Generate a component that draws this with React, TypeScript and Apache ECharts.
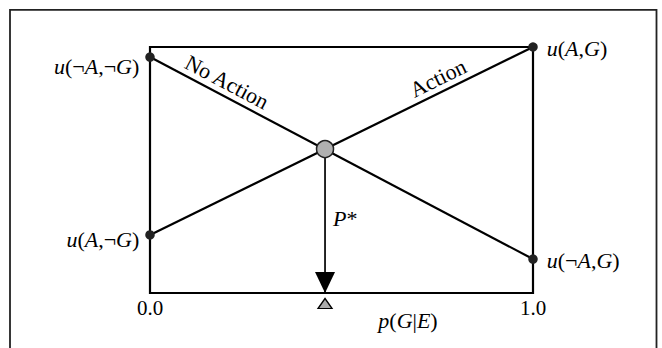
import React, { useEffect, useRef } from "react";
import * as echarts from "echarts";

// Read values (x: p(G|E) from 0 to 1, y: utility scaled 0..1)
const xTicks = [0, 1];
const noActionLine = [
  [0, 0.959],
  [1, 0.138],
];
const actionLine = [
  [0, 0.236],
  [1, 1.0],
];
const endpointLabels = ["u(¬A,¬G)", "u(¬A,G)", "u(A,¬G)", "u(A,G)"];
const pStar = 0.457;
const uStar = 0.585;

const FONT = "Liberation Serif, Times New Roman, serif";
const INK = "#000";

const richItalic = {
  i: { fontStyle: "italic", fontFamily: FONT, fontSize: 22, color: INK },
  n: { fontFamily: FONT, fontSize: 22, color: INK },
};

function toRich(s: string): string {
  // italicise the letters u, A, G, p, E, P
  return s.replace(/[uAGpEP]/g, (m) => `{i|${m}}`);
}

export default function App() {
  const ref = useRef<HTMLDivElement>(null);
  useEffect(() => {
    if (!ref.current) return;
    const chart = echarts.init(ref.current, undefined, { renderer: "svg" });
    const endpoints = [
      { value: noActionLine[0], name: endpointLabels[0], side: "left", off: [0, 9] },
      { value: noActionLine[1], name: endpointLabels[1], side: "right", off: [0, 1] },
      { value: actionLine[0], name: endpointLabels[2], side: "left", off: [0, 5] },
      { value: actionLine[1], name: endpointLabels[3], side: "right", off: [0, 1] },
    ];
    chart.setOption({
      animation: false,
      backgroundColor: "#fff",
      grid: {
        left: 150,
        right: 129,
        top: 47,
        bottom: 55,
        show: true,
        borderColor: "#000",
        borderWidth: 2.2,
        backgroundColor: "transparent",
      },
      xAxis: {
        type: "value",
        min: xTicks[0],
        max: xTicks[1],
        interval: 1,
        axisLine: { show: false },
        axisTick: { show: false },
        splitLine: { show: false },
        axisLabel: {
          margin: 4,
          formatter: (v: number) => v.toFixed(1),
          fontFamily: FONT,
          fontSize: 21,
          color: INK,
        },
      },
      yAxis: {
        type: "value",
        min: 0,
        max: 1,
        show: false,
        splitLine: { show: false },
      },
      graphic: [
        {
          type: "rect",
          shape: { x: 10, y: 9.8, width: 646.5, height: 400 },
          style: { fill: "none", stroke: "#222", lineWidth: 1.8 },
          silent: true,
        },
        {
          type: "text",
          x: 227,
          y: 82,
          rotation: -0.485,
          style: {
            text: "No Action",
            fontFamily: FONT,
            fontSize: 22,
            fill: INK,
            align: "center",
            verticalAlign: "middle",
          },
        },
        {
          type: "text",
          x: 438,
          y: 78,
          rotation: 0.456,
          style: {
            text: "Action",
            fontFamily: FONT,
            fontSize: 22,
            fill: INK,
            align: "center",
            verticalAlign: "middle",
          },
        },
        {
          type: "text",
          x: 333,
          y: 218,
          style: {
            text: toRich("P*"),
            rich: richItalic,
            fontFamily: FONT,
            fontSize: 22,
            fill: INK,
            align: "left",
            verticalAlign: "middle",
          },
        },
        {
          type: "text",
          x: 408,
          y: 320,
          style: {
            text: toRich("p(G|E)"),
            rich: richItalic,
            fontFamily: FONT,
            fontSize: 22,
            fill: INK,
            align: "center",
            verticalAlign: "middle",
          },
        },
      ],
      series: [
        {
          type: "line",
          data: noActionLine,
          symbol: "none",
          clip: false,
          lineStyle: { color: "#000", width: 2.2, opacity: 1 },
          z: 2,
        },
        {
          type: "line",
          data: actionLine,
          symbol: "none",
          clip: false,
          lineStyle: { color: "#000", width: 2.2, opacity: 1 },
          z: 2,
        },
        {
          type: "line",
          data: [
            [pStar, uStar],
            [pStar, 0],
          ],
          symbol: "none",
          clip: false,
          lineStyle: { color: "#000", width: 1.7, opacity: 1 },
          z: 2,
        },
        {
          type: "scatter",
          clip: false,
          data: [[pStar, 0]],
          symbol: "triangle",
          symbolRotate: 180,
          symbolSize: [20, 21],
          symbolOffset: [0, -10.5],
          itemStyle: { color: "#000", opacity: 1 },
          z: 4,
        },
        {
          type: "scatter",
          clip: false,
          data: [[pStar, 0]],
          symbol: "triangle",
          symbolSize: [14, 10],
          symbolOffset: [0, 10.5],
          itemStyle: { color: "#aaa", borderColor: "#000", borderWidth: 1.3, opacity: 1 },
          z: 4,
        },
        {
          type: "scatter",
          clip: false,
          data: [[pStar, uStar]],
          symbol: "circle",
          symbolSize: 17,
          itemStyle: { color: "#b0b0b0", borderColor: "#222", borderWidth: 1.5, opacity: 1 },
          z: 5,
        },
        {
          type: "scatter",
          clip: false,
          symbol: "circle",
          symbolSize: 9.5,
          itemStyle: { color: "#222", opacity: 1 },
          z: 5,
          data: endpoints.map((e) => ({
            value: e.value,
            name: e.name,
            label: {
              show: true,
              position: e.side,
              distance: e.side === "left" ? 6 : 9,
              offset: e.off,
              formatter: toRich(e.name),
              rich: richItalic,
              fontFamily: FONT,
              fontSize: 22,
              color: INK,
            },
          })),
        },
      ],
    });
    return () => chart.dispose();
  }, []);
  return (
    <div
      ref={ref}
      style={{ position: "absolute", left: 0, top: 0, width: 662, height: 348 }}
    />
  );
}
